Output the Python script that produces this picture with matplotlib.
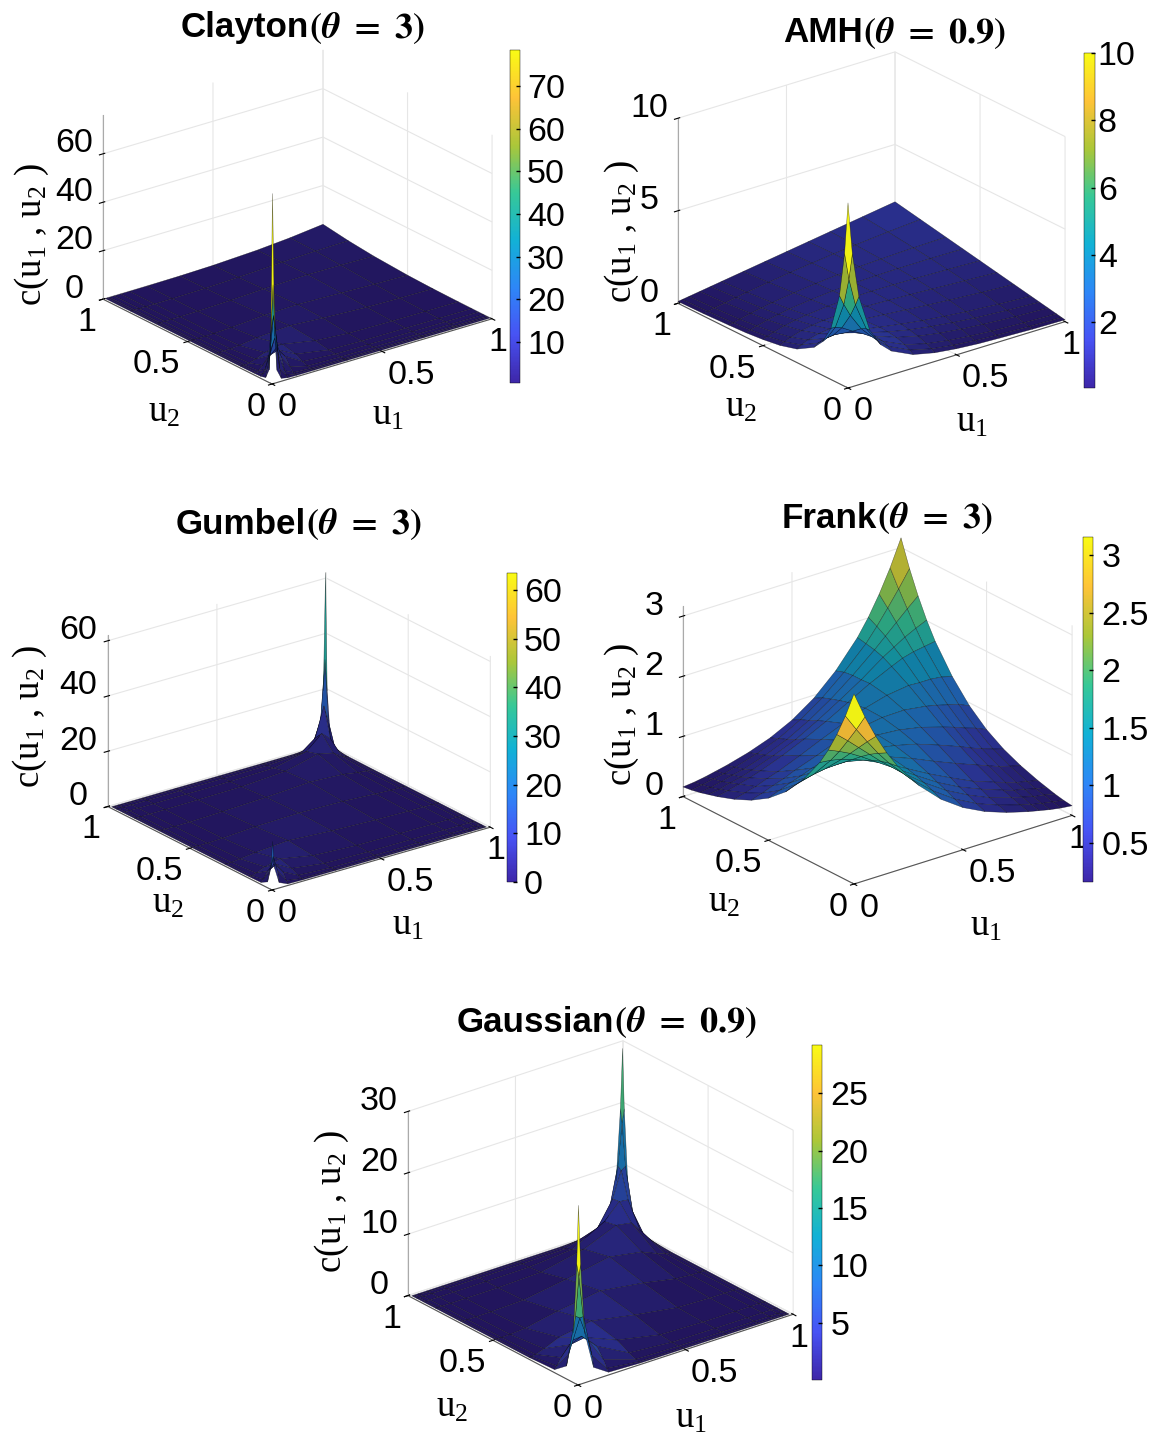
import numpy as np
import matplotlib
matplotlib.use('Agg')
import matplotlib.pyplot as plt
from matplotlib.colors import LinearSegmentedColormap, Normalize
from matplotlib.cm import ScalarMappable
from mpl_toolkits.mplot3d import proj3d

# ---------- data (upper triangle of symmetric tables) ----------
clayton_u = [0.01, 0.02, 0.03, 0.05, 0.08, 0.12, 0.2, 0.35, 0.5, 0.7, 0.85, 1.0]
clayton_rows = [
    [78, 19, 4.55, 0.63, 0.1, 0.02, 0, 0, 0, 0, 0, 0],
    [39.7, 21.5, 4.4, 0.75, 0.16, 0.02, 0, 0, 0, 0, 0],
    [26.5, 11, 2.3, 0.5, 0.07, 0.01, 0, 0, 0, 0],
    [15.9, 7.3, 2.1, 0.3, 0.03, 0, 0, 0, 0],
    [9.9, 5.4, 1.1, 0.14, 0.03, 0.01, 0, 0],
    [6.6, 2.75, 0.42, 0.1, 0.03, 0.01, 0.01],
    [4.0, 1.45, 0.45, 0.13, 0.06, 0.03],
    [2.39, 1.49, 0.6, 0.31, 0.17],
    [1.84, 1.26, 0.8, 0.5],
    [1.76, 1.66, 1.37],
    [2.19, 2.46],
    [4.0],
]
amh_u = [0, 0.02, 0.05, 0.1, 0.15, 0.2, 0.3, 0.4, 0.5, 0.6, 0.7, 0.85, 1.0]
amh_rows = [
    [10, 7.18, 4.76, 2.77, 1.81, 1.28, 0.73, 0.47, 0.33, 0.24, 0.19, 0.13, 0.1],
    [5.73, 4.22, 2.76, 1.94, 1.44, 0.88, 0.59, 0.425, 0.32, 0.25, 0.18, 0.136],
    [3.52, 2.62, 2.0, 1.57, 1.04, 0.73, 0.545, 0.42, 0.33, 0.25, 0.19],
    [2.26, 1.93, 1.63, 1.2, 0.91, 0.71, 0.57, 0.47, 0.35, 0.28],
    [1.76, 1.59, 1.27, 1.02, 0.84, 0.69, 0.58, 0.46, 0.37],
    [1.5, 1.29, 1.1, 0.93, 0.8, 0.69, 0.56, 0.46],
    [1.25, 1.15, 1.05, 0.95, 0.86, 0.74, 0.64],
    [1.15, 1.11, 1.06, 1.0, 0.91, 0.82],
    [1.14, 1.13, 1.11, 1.06, 1.0],
    [1.17, 1.19, 1.2, 1.18],
    [1.25, 1.32, 1.36],
    [1.49, 1.63],
    [1.9],
]
gumbel_u = [0.01, 0.02, 0.04, 0.08, 0.15, 0.3, 0.5, 0.7, 0.85, 0.92, 0.96, 0.98, 0.99]
gumbel_rows = [
    [17, 7, 1.5, 0.1, 0, 0, 0, 0, 0, 0, 0, 0, 0],
    [11, 5.5, 1, 0.1, 0, 0, 0, 0, 0, 0, 0, 0],
    [7.5, 3.5, 0.7, 0.05, 0, 0, 0, 0, 0, 0, 0],
    [5, 2, 0.4, 0.03, 0.01, 0, 0, 0, 0, 0],
    [3.3, 1.1, 0.25, 0.05, 0.02, 0.01, 0, 0, 0],
    [2.0, 1.0, 0.4, 0.15, 0.08, 0.05, 0.03, 0.02],
    [1.4, 1.05, 0.35, 0.1, 0.02, 0.01, 0.005],
    [2.0, 1.37, 0.45, 0.12, 0.03, 0.005],
    [4.2, 3, 0.9, 0.23, 0.06],
    [7.9, 5.1, 1.5, 0.39],
    [15.8, 10, 3],
    [31.5, 20],
    [62.5],
]
frank_u = [0, 0.05, 0.1, 0.15, 0.2, 0.3, 0.4, 0.5, 0.6, 0.7, 0.8, 0.85, 0.9, 0.95, 1.0]
frank_rows = [
    [3.16, 2.72, 2.34, 2.01, 1.73, 1.29, 0.95, 0.70, 0.52, 0.39, 0.29, 0.25, 0.21, 0.18, 0.16],
    [2.44, 2.18, 1.93, 1.71, 1.33, 1.02, 0.77, 0.58, 0.44, 0.33, 0.28, 0.24, 0.21, 0.18],
    [2.01, 1.84, 1.67, 1.36, 1.08, 0.84, 0.65, 0.49, 0.38, 0.33, 0.28, 0.25, 0.21],
    [1.73, 1.61, 1.37, 1.13, 0.90, 0.71, 0.56, 0.43, 0.37, 0.33, 0.28, 0.25],
    [1.54, 1.37, 1.17, 0.97, 0.79, 0.62, 0.49, 0.43, 0.37, 0.33, 0.29],
    [1.32, 1.22, 1.08, 0.92, 0.77, 0.63, 0.56, 0.49, 0.44, 0.39],
    [1.21, 1.15, 1.06, 0.93, 0.79, 0.71, 0.64, 0.58, 0.52],
    [1.18, 1.15, 1.08, 0.97, 0.91, 0.84, 0.78, 0.70],
    [1.21, 1.22, 1.17, 1.13, 1.08, 1.03, 0.95],
    [1.32, 1.37, 1.36, 1.36, 1.34, 1.29],
    [1.54, 1.62, 1.67, 1.70, 1.73],
    [1.73, 1.84, 1.93, 2.01],
    [2.01, 2.18, 2.34],
    [2.44, 2.72],
    [3.16],
]
gauss_u = [0.01, 0.02, 0.04, 0.08, 0.15, 0.3, 0.5, 0.7, 0.85, 0.92, 0.96, 0.98, 0.99]
gauss_rows = [
    [29, 19.3, 7.8, 1.82, 0.21, 0.004, 0, 0, 0, 0, 0, 0, 0],
    [17.2, 10.4, 3.67, 0.70, 0.027, 0, 0, 0, 0, 0, 0, 0],
    [9.9, 5.7, 1.82, 0.145, 0.003, 0, 0, 0, 0, 0, 0],
    [5.88, 3.42, 0.62, 0.034, 0, 0, 0, 0, 0, 0],
    [3.83, 1.68, 0.234, 0.01, 0, 0, 0, 0, 0],
    [2.6, 1.28, 0.19, 0.01, 0, 0, 0, 0],
    [2.29, 1.28, 0.234, 0.034, 0.003, 0, 0],
    [2.6, 1.68, 0.62, 0.145, 0.027, 0.004],
    [3.83, 3.42, 1.82, 0.70, 0.21],
    [5.88, 5.7, 3.67, 1.82],
    [9.9, 10.4, 7.8],
    [17.2, 19.3],
    [29],
]
u_ticks = [0, 0.5, 1]
clayton_zt = [0, 20, 40, 60]
amh_zt = [0, 5, 10]
gumbel_zt = [0, 20, 40, 60]
frank_zt = [0, 1, 2, 3]
gauss_zt = [0, 10, 20, 30]
clayton_ct = [10, 20, 30, 40, 50, 60, 70]
amh_ct = [2, 4, 6, 8, 10]
gumbel_ct = [0, 10, 20, 30, 40, 50, 60]
frank_ct = [0.5, 1, 1.5, 2, 2.5, 3]
gauss_ct = [5, 10, 15, 20, 25]

# ---------- style ----------
W, H = 1156, 1435
plt.rcParams['font.family'] = ['Liberation Sans', 'DejaVu Sans']
plt.rcParams['mathtext.fontset'] = 'stix'
plt.rcParams['mathtext.default'] = 'regular'
plt.rcParams['grid.color'] = '#e6e6e6'
plt.rcParams['grid.linewidth'] = 0.8

parula_stops = [(0.2422, 0.1504, 0.6603), (0.2810, 0.3228, 0.9579), (0.1786, 0.5289, 0.9682),
                (0.0689, 0.6948, 0.8394), (0.2161, 0.7843, 0.5923), (0.6720, 0.7793, 0.2227),
                (0.9970, 0.7659, 0.2199), (0.9769, 0.9839, 0.0805)]
parula = LinearSegmentedColormap.from_list('parula', parula_stops, N=256)
dark_f = [0.55, 0.58, 0.68, 0.76, 0.82, 0.88, 0.92, 0.96]
parula_dark = LinearSegmentedColormap.from_list(
    'parula_dark', [tuple(np.array(c) * f) for c, f in zip(parula_stops, dark_f)], N=256)

fig = plt.figure(figsize=(W / 100, H / 100), dpi=100, facecolor='white')


def full(rows):
    n = len(rows)
    Z = np.zeros((n, n))
    for i, r in enumerate(rows):
        for j, v in enumerate(r):
            Z[i, i + j] = v
            Z[i + j, i] = v
    return Z


def txt(x, y, s, **kw):
    kw.setdefault('ha', 'center')
    kw.setdefault('va', 'center')
    fig.text(x / W, 1 - y / H, s, **kw)


def screen(ax, p):
    x, y, _ = proj3d.proj_transform(p[0], p[1], p[2], ax.get_proj())
    d = ax.transData.transform((x, y))
    return np.array([d[0], H - d[1]])


def panel(F, L, R, top_h, zmax, u, rows, zticks):
    F, L, R = map(np.array, (F, L, R))
    a, b = R - F, L - F
    az = np.degrees(np.arctan2(-a[0], b[0]))
    S = np.hypot(a[0], b[0])
    ca, sa = abs(np.cos(np.radians(az))), abs(np.sin(np.radians(az)))
    sinel = (abs(a[1]) + abs(b[1])) / ((ca + sa) * S)
    el = np.degrees(np.arcsin(sinel))
    k = top_h / np.cos(np.radians(el)) / S
    side = 500.0
    ax = fig.add_axes([0, 0, side / W, side / H], projection='3d', proj_type='ortho')
    ax.view_init(elev=el, azim=az)
    ax.set_box_aspect((1, 1, k))
    ax.set_xlim(0, 1); ax.set_ylim(0, 1); ax.set_zlim(0, zmax)
    ax.patch.set_alpha(0)
    fig.canvas.draw()
    sF, sL, sR = screen(ax, (0, 0, 0)), screen(ax, (0, 1, 0)), screen(ax, (1, 0, 0))
    s = np.hypot(*(R - L)) / np.hypot(*(sR - sL))
    side2 = side * s
    ax.set_position([0, 0, side2 / W, side2 / H])
    fig.canvas.draw()
    sF = screen(ax, (0, 0, 0))
    dx, dy = F[0] - sF[0], F[1] - sF[1]
    ax.set_position([dx / W, -dy / H, side2 / W, side2 / H])

    ug = np.array(u)
    U, V = np.meshgrid(ug, ug)
    Z = full(rows)
    norm = Normalize(vmin=Z.min(), vmax=Z.max())
    ax.plot_surface(U, V, Z, rstride=1, cstride=1, facecolors=parula_dark(norm(Z)),
                    edgecolor=(0, 0, 0, 0.55), linewidth=0.35, antialiased=True, shade=False)
    ax.set_xticks(u_ticks); ax.set_yticks(u_ticks); ax.set_zticks(zticks)
    ax.set_xticklabels(['0', '0.5', '1']); ax.set_yticklabels(['0', '0.5', '1'])
    ax.zaxis.set_ticks_position('upper')
    ax.tick_params(axis='both', labelsize=24.5, pad=-3)
    ax.tick_params(axis='z', labelsize=24.5, pad=4)
    for t, ha in zip(ax.xaxis.get_major_ticks(), ['left', 'left', 'center']):
        t.label1.set_ha(ha)
    for t in ax.yaxis.get_major_ticks():
        t.label1.set_ha('right')
    for t in ax.zaxis.get_major_ticks():
        t.label1.set_va('baseline')
        t.label2.set_va('baseline')
    for A in (ax.xaxis, ax.yaxis, ax.zaxis):
        A.set_pane_color((1, 1, 1, 0))
        A.pane.set_edgecolor('#dddddd')
        A.line.set_color('#555555')
        A.line.set_linewidth(0.8)
    ax.zaxis.line.set_color('#aaaaaa')
    return ax


def cbar(x0, x1, y0, y1, vmin, vmax, ticks, pad, labels=None):
    cax = fig.add_axes([x0 / W, 1 - y1 / H, (x1 - x0) / W, (y1 - y0) / H])
    cb = fig.colorbar(ScalarMappable(Normalize(vmin, vmax), parula), cax=cax)
    cb.set_ticks(ticks)
    if labels:
        cb.set_ticklabels(labels)
    cb.ax.tick_params(direction='in', length=3, width=1, labelsize=24.5, pad=pad, color='black')
    cb.outline.set_linewidth(0.3)


def title(x_split, y, name, value):
    txt(x_split, y, name, ha='right', fontsize=25.2, fontweight='bold')
    txt(x_split, y, r'$\mathbf{(}\mathbfit{\theta}\mathbf{\ =\ ' + value + r')}$', ha='left', fontsize=26)


def labels(zx, zy, x2, y2, x1, y1):
    kw = dict(family='Liberation Serif', fontsize=26.5)
    txt(zx, zy, 'c(u$_1$ , u$_2$ )', rotation=90, **kw)
    txt(x2, y2, 'u$_2$', **kw)
    txt(x1, y1, 'u$_1$', **kw)


# ---------- panels ----------
panel((272, 384), (103, 298), (492, 320), 184, 76, clayton_u, clayton_rows, clayton_zt)
cbar(510, 520, 50, 383, 0.4, 78.4, clayton_ct, 5)
title(309, 28, 'Clayton', '3')
labels(32, 235, 164, 412, 388, 415)

panel((848, 388), (678, 302), (1065, 323), 185, 10, amh_u, amh_rows, amh_zt)
cbar(1084, 1095, 53, 388, 0.05, 10, amh_ct, 2)
title(863, 33, 'AMH', '0.9')
labels(622, 232, 741, 407, 972, 422)

panel((272, 890), (108, 802), (490, 832), 171, 62, gumbel_u, gumbel_rows, gumbel_zt)
cbar(507, 517, 573, 882, 0, 63.5, gumbel_ct, 5)
title(306, 524, 'Gumbel', '3')
labels(30, 717, 168, 903, 408, 925)

panel((854, 884), (683, 795), (1072, 817), 190, 3.16, frank_u, frank_rows, frank_zt)
cbar(1083, 1093, 537, 882, 0.16, 3.157, frank_ct, 6, ['0.5', '1', '1.5', '2', '2.5', '3'])
title(877, 518, 'Frank', '3')
labels(622, 715, 724, 902, 986, 926)

panel((578, 1385), (408, 1293), (793, 1317), 184, 30, gauss_u, gauss_rows, gauss_zt)
cbar(812, 822, 1045, 1380, 0, 29.2, gauss_ct, 6)
title(614, 1022, 'Gaussian', '0.9')
labels(332, 1202, 452, 1407, 691, 1418)

fig.savefig('out.png', dpi=100, facecolor='white')
